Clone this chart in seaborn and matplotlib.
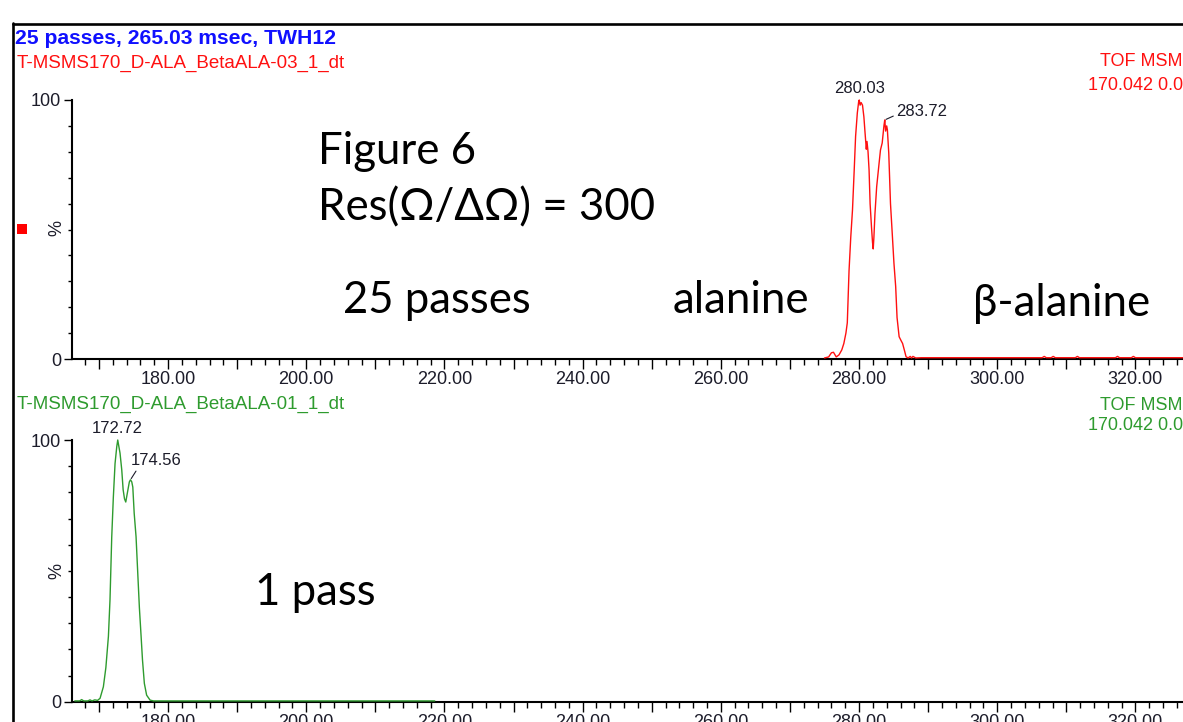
import matplotlib
matplotlib.use("Agg")
import matplotlib.pyplot as plt
from matplotlib.lines import Line2D
from matplotlib.patches import Rectangle
from matplotlib.ticker import FixedLocator, FuncFormatter
import seaborn as sns
import pandas as pd

# ---------------- data ----------------
# top trace: 25 passes (red)
top_drift = [275.0, 275.6, 276.0, 276.3, 276.7, 277.1, 277.5, 277.8, 278.1, 278.3,
             278.55, 278.8, 279.05, 279.3, 279.5, 279.75, 279.95, 280.03, 280.15, 280.3,
             280.5, 280.7, 280.85, 280.95, 281.05, 281.15, 281.3, 281.45, 281.6, 281.8,
             281.95, 282.05, 282.15, 282.3, 282.55, 282.9, 283.1, 283.35, 283.6, 283.72,
             283.85, 284.0, 284.1, 284.3, 284.55, 284.8, 285.05, 285.3, 285.5, 285.8,
             286.1, 286.3, 286.6, 286.8, 287.1, 287.4, 287.6, 287.8, 288.2, 289.0,
             306.5, 306.8, 307.1, 307.8, 308.1, 308.4, 311.3, 311.6, 311.9,
             317.1, 317.4, 317.7, 319.4, 319.7, 320.0, 330.0]
top_intensity = [0.4, 0.8, 2.4, 2.6, 0.8, 1.6, 3.5, 6.0, 10.0, 14.0,
                 34.0, 47.0, 57.5, 73.0, 86.0, 95.0, 99.5, 100.0, 98.0, 99.0,
                 98.0, 93.5, 88.0, 84.5, 81.0, 84.0, 80.0, 73.0, 60.0, 51.0,
                 45.0, 42.5, 47.0, 56.0, 66.5, 75.6, 80.7, 83.4, 90.0, 92.3,
                 88.0, 90.0, 88.5, 79.5, 60.0, 48.6, 37.0, 28.0, 16.0, 8.6,
                 7.0, 6.0, 3.0, 0.9, 0.4, 1.0, 0.4, 1.0, 0.4, 0.5,
                 0.5, 1.0, 0.5, 0.5, 1.0, 0.5, 0.5, 1.0, 0.5,
                 0.5, 1.0, 0.5, 0.5, 1.0, 0.5, 0.5]

# bottom trace: 1 pass (green)
bot_drift = [166.5, 167.2, 167.5, 167.8, 168.4, 168.7, 169.0, 169.4, 169.8, 170.16,
             170.64, 171.0, 171.37, 171.6, 171.85, 172.08, 172.33, 172.58, 172.72, 172.85,
             173.05, 173.3, 173.5, 173.7, 173.88, 174.1, 174.4, 174.56, 174.75, 174.9,
             175.1, 175.37, 175.6, 175.85, 176.1, 176.3, 176.57, 176.9, 177.4, 177.9, 218.6]
bot_intensity = [0.3, 0.3, 0.8, 0.3, 0.3, 0.7, 0.3, 0.7, 0.5, 1.3,
                 5.7, 13.0, 25.0, 39.0, 62.9, 78.0, 91.0, 97.5, 100.0, 98.0,
                 95.0, 88.6, 81.0, 77.5, 76.3, 79.6, 84.0, 84.8, 84.0, 82.0,
                 72.0, 63.0, 50.0, 36.0, 25.0, 16.0, 7.0, 2.5, 0.6, 0.3, 0.3]

top_peaks = [280.03, 283.72]
top_peak_vals = [100.0, 92.3]
bot_peaks = [172.72, 174.56]
bot_peak_vals = [100.0, 84.8]

header = "25 passes, 265.03 msec, TWH12"
top_file = "T-MSMS170_D-ALA_BetaALA-03_1_dt"
bot_file = "T-MSMS170_D-ALA_BetaALA-01_1_dt"
fn_line1 = "TOF MSM"
fn_line2 = "170.042 0.0"

# ---------------- styling ----------------
sns.set_style("white")
plt.rcParams['font.family'] = ['Liberation Sans', 'DejaVu Sans']

W, H = 1183, 722
fig = plt.figure(figsize=(W / 100, H / 100), dpi=100)
fig.patch.set_facecolor("white")


def px(x, y):
    return x / W, 1 - y / H


XLIM = (166.1, 330.0)
PX_PER_UNIT = 6.91
ax_w = (XLIM[1] - XLIM[0]) * PX_PER_UNIT / W
left = 72 / W

ax_top = fig.add_axes([left, (H - 359) / H, ax_w, 259 / H])
ax_bot = fig.add_axes([left, (H - 701.7) / H, ax_w, 261.7 / H])

RED = "#ff1010"
GREEN = "#2e9b2e"
TICKC = "#1c1c2a"

for ax, xs, ys, col in [(ax_top, top_drift, top_intensity, RED),
                        (ax_bot, bot_drift, bot_intensity, GREEN)]:
    df = pd.DataFrame({"drift": xs, "intensity": ys})
    sns.lineplot(data=df, x="drift", y="intensity", ax=ax, color=col,
                 linewidth=1.0, estimator=None, sort=False, zorder=3)
    for ln in ax.lines:
        ln.set_clip_on(False)
    ax.set_xlim(*XLIM)
    ax.set_ylim(0, 100)
    ax.set_xlabel("")
    ax.set_ylabel("")
    ax.set_facecolor("none")
    for s in ["top", "right"]:
        ax.spines[s].set_visible(False)
    for s in ["left", "bottom"]:
        ax.spines[s].set_color("black")
        ax.spines[s].set_linewidth(1.5)
    ax.xaxis.set_major_locator(FixedLocator(list(range(170, 331, 10))))
    ax.xaxis.set_minor_locator(FixedLocator(list(range(168, 331, 2))))
    ax.xaxis.set_major_formatter(FuncFormatter(
        lambda v, p: f"{v:.2f}" if round(v) % 20 == 0 else ""))
    ax.yaxis.set_major_locator(FixedLocator([0, 100]))
    ax.yaxis.set_minor_locator(FixedLocator(list(range(10, 100, 10))))
    ax.yaxis.set_major_formatter(FuncFormatter(lambda v, p: f"{int(v)}"))
    ax.tick_params(axis="x", which="major", length=7, width=1.0, color="black",
                   direction="out", pad=2, labelsize=13, labelcolor=TICKC, bottom=True)
    ax.tick_params(axis="x", which="minor", length=4, width=1.0, color="black",
                   direction="out", bottom=True)
    ax.tick_params(axis="y", which="major", length=6, width=1.0, color="black",
                   direction="out", pad=2, labelsize=13, labelcolor=TICKC, left=True)
    ax.tick_params(axis="y", which="minor", length=3, width=1.0, color="black",
                   direction="out", left=True)
    ax.grid(False)

# peak labels
ax_top.annotate(f"{top_peaks[0]:.2f}", xy=(top_peaks[0], top_peak_vals[0]),
                xytext=(0, 3), textcoords="offset points", ha="center", va="bottom",
                fontsize=12, color=TICKC)
ax_top.annotate(f"{top_peaks[1]:.2f}", xy=(top_peaks[1], top_peak_vals[1]),
                xytext=(8.5, 6), textcoords="offset points", ha="left", va="center",
                fontsize=12, color=TICKC,
                arrowprops=dict(arrowstyle="-", color=TICKC, lw=0.8,
                                shrinkA=0, shrinkB=1, relpos=(0, 0.3)))
ax_bot.annotate(f"{bot_peaks[0]:.2f}", xy=(bot_peaks[0], bot_peak_vals[0]),
                xytext=(0, 3), textcoords="offset points", ha="center", va="bottom",
                fontsize=12, color=TICKC)
ax_bot.annotate(f"{bot_peaks[1]:.2f}", xy=(bot_peaks[1], bot_peak_vals[1]),
                xytext=(0, 14), textcoords="offset points", ha="left", va="center",
                fontsize=12, color=TICKC,
                arrowprops=dict(arrowstyle="-", color=TICKC, lw=0.8,
                                shrinkA=0, shrinkB=1, relpos=(0.15, 0)))

# "%" axis labels
fig.text(*px(57, 228), "%", rotation=90, ha="center", va="center", fontsize=13, color=TICKC)
fig.text(*px(57, 571), "%", rotation=90, ha="center", va="center", fontsize=13, color=TICKC)

# header texts
fig.text(*px(15, 38), header, ha="left", va="center", fontsize=15.2,
         fontweight="bold", color="#1010ff")
fig.text(*px(17, 63), top_file, ha="left", va="center", fontsize=13.5, color=RED)
fig.text(*px(1183, 62), fn_line1, ha="right", va="center", fontsize=13, color=RED)
fig.text(*px(1183, 85), fn_line2, ha="right", va="center", fontsize=13, color=RED)
fig.text(*px(17, 404), bot_file, ha="left", va="center", fontsize=13.5, color=GREEN)
fig.text(*px(1183, 405), fn_line1, ha="right", va="center", fontsize=13, color=GREEN)
fig.text(*px(1183, 426), fn_line2, ha="right", va="center", fontsize=13, color=GREEN)

# big annotations
BIG = dict(ha="left", va="baseline", fontsize=31.5, color="black",
           family=["Lato", "Open Sans", "DejaVu Sans"])
fig.text(*px(318, 164), "Figure 6", **BIG)
fig.text(*px(318, 220), "Res(Ω/ΔΩ) = 300", **BIG)
fig.text(*px(343, 313), "25 passes", **BIG)
fig.text(*px(673, 313), "alanine", **BIG)
fig.text(*px(973, 316), "β-alanine", **BIG)
fig.text(*px(255, 605), "1 pass", **BIG)

# frame lines and marker
fig.add_artist(Line2D([12.5 / W, 1.0], [1 - 24 / H, 1 - 24 / H], color="black", lw=1.9))
fig.add_artist(Line2D([13 / W, 13 / W], [0, 1 - 23 / H], color="black", lw=1.9))
fig.add_artist(Rectangle(px(17, 234), 10 / W, 10 / H, color="#ff0000", lw=0))

fig.savefig("out.png", dpi=100, facecolor="white")
